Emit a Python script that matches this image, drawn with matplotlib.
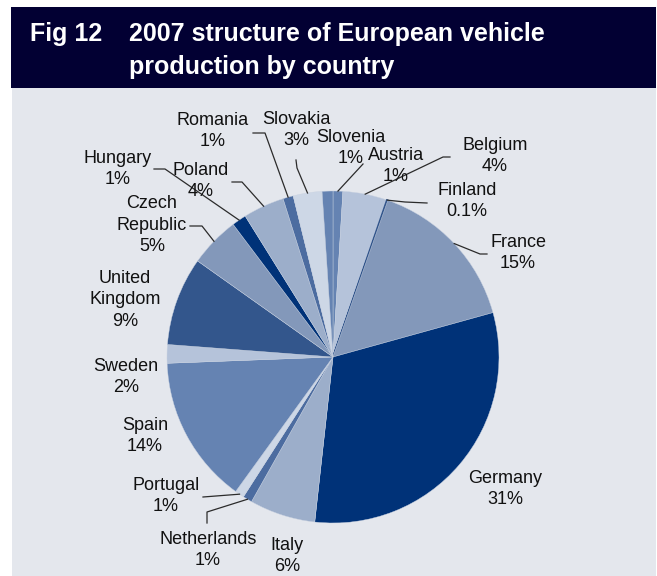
import numpy as np
import matplotlib
matplotlib.use("Agg")
import matplotlib.pyplot as plt
from matplotlib.patches import Rectangle

plt.rcParams['font.family'] = ['Liberation Sans', 'DejaVu Sans']

# share of 2007 European vehicle production, series order as in the source table
countries = ['Austria', 'Belgium', 'Finland', 'France', 'Germany', 'Italy',
             'Netherlands', 'Portugal', 'Spain', 'Sweden', 'United\nKingdom',
             'Czech\nRepublic', 'Hungary', 'Poland', 'Romania', 'Slovakia',
             'Slovenia']
shares = [0.95, 4.3, 0.1, 15.3, 31.0, 6.4, 0.9, 0.9, 14.4, 1.8, 8.6,
          4.9, 1.4, 4.0, 1.0, 2.8, 1.05]

palette = ['#6583B2', '#B5C3DA', '#33568C', '#8398BA',
           '#003278', '#9CAECA', '#4C6CA0', '#CDD7E6']

W, H = 657, 576
fig = plt.figure(figsize=(W / 100, H / 100), dpi=100)
ax = fig.add_axes([0, 0, 1, 1])


def py(y):
    # pixel rows are counted from the top
    return H - y


# header banner and grey panel
ax.add_patch(Rectangle((11, py(88)), 645, 81, facecolor='#020033', edgecolor='none', zorder=0))
ax.add_patch(Rectangle((12, 0), 644, py(88), facecolor='#E4E7ED', edgecolor='none', zorder=0))

title_kw = dict(color='white', fontsize=18, fontweight='bold', va='baseline')
ax.text(30, py(41), 'Fig 12', **title_kw)
ax.text(129, py(41), '2007 structure of European vehicle', **title_kw)
ax.text(129, py(74), 'production by country', **title_kw)

cx, cy, r = 333, py(357), 166
colors = [palette[i % len(palette)] for i in range(len(shares))]
wedges, _ = ax.pie(shares, colors=colors, startangle=90, counterclock=False,
                   center=(cx, cy), radius=r,
                   wedgeprops=dict(edgecolor='#C9D2E1', linewidth=0.3))
# keep the tiny Finland slice visible
wedges[2].set_edgecolor(colors[2])
wedges[2].set_linewidth(1.2)


def label_text(name, v):
    pct = f'{v:.1f}%' if v < 0.5 else f'{v:.0f}%'
    return f'{name}\n{pct}'


# label block centres (x, y from top)
label_pos = {
    'Austria': (396, 166), 'Belgium': (495, 156), 'Finland': (467, 201),
    'France': (518, 253), 'Germany': (505, 489), 'Italy': (287, 556),
    'Netherlands': (208, 550), 'Portugal': (166, 496), 'Spain': (145, 436),
    'Sweden': (126, 377), 'United\nKingdom': (125, 300),
    'Czech\nRepublic': (152, 225), 'Hungary': (118, 169), 'Poland': (201, 181),
    'Romania': (213, 131), 'Slovakia': (296, 130), 'Slovenia': (351, 148),
}

# leader lines: points on the label side, last point is on the wedge rim
leaders = {
    'Romania': [(253, 133), (265, 133)],
    'Slovakia': [(296, 160), (297, 168)],
    'Austria': [(363, 164)],
    'Belgium': [(450, 157), (443, 157)],
    'Finland': [(427, 203), (405, 202)],
    'France': [(487, 254), (480, 254)],
    'Czech\nRepublic': [(190, 226), (202, 226)],
    'Hungary': [(154, 169), (165, 169)],
    'Poland': [(232, 182), (242, 182)],
    'Portugal': [(203, 497)],
    'Netherlands': [(207, 523), (207, 512)],
}

for w, name, v in zip(wedges, countries, shares):
    x, y = label_pos[name]
    ax.text(x, py(y), label_text(name, v), ha='center', va='center',
            fontsize=13, color='#111111', linespacing=1.32, zorder=5)
    if name in leaders:
        theta = np.deg2rad((w.theta1 + w.theta2) / 2)
        pts = [(px, py(pyy)) for px, pyy in leaders[name]]
        pts.append((cx + r * np.cos(theta), cy + r * np.sin(theta)))
        xs, ys = zip(*pts)
        ax.plot(xs, ys, color='#2b2b2b', lw=0.9, zorder=4)

ax.set_xlim(0, W)
ax.set_ylim(0, H)
ax.set_aspect('equal')
ax.axis('off')

fig.savefig('out.png', dpi=100, facecolor='white')
